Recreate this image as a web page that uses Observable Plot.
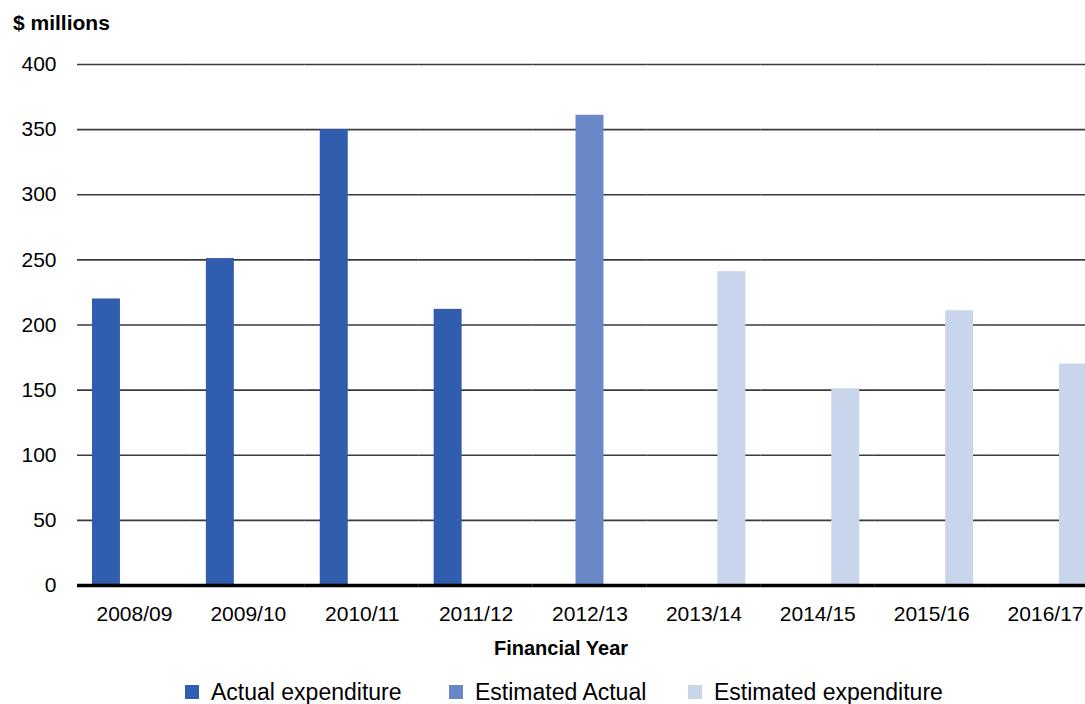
<!DOCTYPE html>
<html>
<head>
<meta charset="utf-8">
<script src="https://cdn.jsdelivr.net/npm/d3@7"></script>
<script src="https://cdn.jsdelivr.net/npm/@observablehq/plot@0.6"></script>
<style>
  html, body { margin: 0; padding: 0; background: #fff; overflow: hidden; }
  body { width: 1085px; height: 704px; position: relative; font-family: "Liberation Sans", Arial, sans-serif; color: #000; }
  #title { position: absolute; left: 13px; top: 11px; font-size: 21px; font-weight: bold; line-height: 24px; }
  #chart { position: absolute; left: 0; top: 40px; width: 1085px; overflow: hidden; }
  #xlabel { position: absolute; left: 0; width: 1122px; top: 636px; text-align: center; font-size: 20px; font-weight: bold; line-height: 24px; }
  .leg { position: absolute; top: 680px; height: 24px; line-height: 24px; font-size: 23px; white-space: nowrap; }
  .sw { position: absolute; top: 5px; left: 0; width: 14px; height: 14px; }
  .lt { position: absolute; left: 26px; top: 0; }
</style>
</head>
<body>
<div id="title">$ millions</div>
<div id="chart"></div>
<div id="xlabel">Financial Year</div>
<div id="legend"></div>
<script>
const years = ["2008/09", "2009/10", "2010/11", "2011/12", "2012/13", "2013/14", "2014/15", "2015/16", "2016/17"];
const seriesNames = ["Actual expenditure", "Estimated Actual", "Estimated expenditure"];
const seriesColors = ["#315DAE", "#6A88C7", "#C9D5EA"];
const actualExpenditure = [220, 251, 350, 212, null, null, null, null, null];
const estimatedActual = [null, null, null, null, 361, null, null, null, null];
const estimatedExpenditure = [null, null, null, null, null, 241, 151, 211, 170];
const yTicks = [0, 50, 100, 150, 200, 250, 300, 350, 400];

const seriesValues = [actualExpenditure, estimatedActual, estimatedExpenditure];
const rows = [];
years.forEach((year, i) => {
  seriesNames.forEach((s, j) => {
    const v = seriesValues[j][i];
    if (v != null) rows.push({year, series: s, value: v});
  });
});

const chart = Plot.plot({
  width: 1085,
  height: 590,
  marginLeft: 77,
  marginRight: -17,
  marginTop: 24,
  marginBottom: 45,
  style: {fontFamily: "'Liberation Sans', Arial, sans-serif", fontSize: "21px", color: "#000", background: "#fff", overflow: "hidden"},
  fx: {domain: years, padding: 0, paddingOuter: 0, round: false, axis: null},
  x: {domain: seriesNames, paddingInner: 0, paddingOuter: 0.536, round: false, axis: null},
  y: {domain: [0, 400], axis: null},
  color: {domain: seriesNames, range: seriesColors},
  marks: [
    Plot.gridY(yTicks, {stroke: "#3a3a3a", strokeOpacity: 1, strokeWidth: 1.6}),
    Plot.axisY(yTicks, {tickSize: 0, tickPadding: 21, label: null, fill: "#000", fontSize: 21}),
    Plot.barY(rows, {fx: "year", x: "series", y: "value", fill: "series"}),
    Plot.ruleY([0], {stroke: "#000", strokeWidth: 3.5}),
    Plot.axisFx({anchor: "bottom", tickSize: 0, tickPadding: 21, label: null, fill: "#000", fontSize: 21})
  ]
});
document.getElementById("chart").appendChild(chart);

const legendLefts = [185, 449, 688];
const legend = document.getElementById("legend");
seriesNames.forEach((s, i) => {
  const item = document.createElement("div");
  item.className = "leg";
  item.style.left = legendLefts[i] + "px";
  item.innerHTML = `<span class="sw" style="background:${seriesColors[i]}"></span><span class="lt">${s}</span>`;
  legend.appendChild(item);
});
</script>
</body>
</html>
